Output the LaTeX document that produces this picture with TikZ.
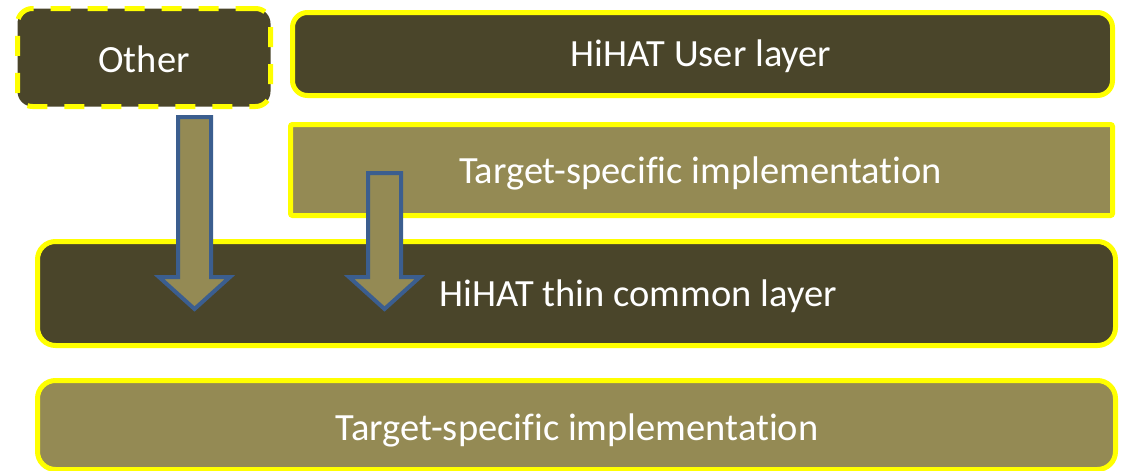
\documentclass[tikz,border=0pt]{standalone}
\usepackage{fontspec}
\setmainfont{Carlito}[RawFeature={-liga;-clig;-dlig}]
\usepackage{tikz}
\usetikzlibrary{positioning}
\definecolor{darkolive}{HTML}{4A452A}
\definecolor{lightolive}{HTML}{948A54}
\definecolor{hatyellow}{HTML}{FFFF00}
\definecolor{hatblue}{HTML}{3B5E8F}
% block arrow pointing down: #1 tip coordinate, #2 shaft length
\newcommand{\hatarrow}[2]{%
  \draw[blockarr] (#1) -- ++(-35.5,-32) -- ++(19,0) -- ++(0,-#2) -- ++(33,0)
    -- ++(0,#2) -- ++(19,0) -- cycle;}
\begin{document}
\begin{tikzpicture}[x=1pt, y=-1pt,
  every node/.style={font=\fontsize{38.5}{46}\selectfont, text=white},
  layer/.style={draw=hatyellow, line width=5pt, inner sep=0pt, rounded corners=15pt},
  darklayer/.style={layer, fill=darkolive},
  lightlayer/.style={layer, fill=lightolive},
  txt/.style={anchor=base, inner sep=0pt},
  blockarr/.style={draw=hatblue, line width=4pt, fill=lightolive, line join=miter}]
\useasboundingbox (0,0) rectangle (1125,471);
% layers
\node[darklayer, dash pattern=on 20pt off 17pt, minimum width=253pt, minimum height=98pt] (other) at (144,57.5) {};
\node[darklayer, minimum width=820pt, minimum height=83pt] (user) at (702.5,54) {};
\node[lightlayer, rounded corners=2pt, minimum width=822pt, minimum height=91pt] (tsiup) at (701.5,170) {};
\node[darklayer, rounded corners=18pt, minimum width=1078pt, minimum height=104pt] (common) at (576.5,293.5) {};
\node[lightlayer, rounded corners=18pt, minimum width=1078pt, minimum height=89pt] (tsilow) at (576.5,425) {};
% labels
\node[txt] (othertxt) at (144,72) {Other};
\node[txt] (usertxt) at (701,66.5) {HiHAT User layer};
\node[txt] (tsiuptxt) at (700.5,183.5) {Target-specific implementation};
\node[txt] (commontxt) at (638,306.5) {HiHAT thin common layer};
\node[txt] (tsilowtxt) at (577,440.5) {Target-specific implementation};
% arrows into the common layer
\coordinate (tipA) at (194.5,309);
\coordinate (tipB) at (384.5,309);
\hatarrow{tipA}{160}
\hatarrow{tipB}{104}
\end{tikzpicture}
\end{document}
